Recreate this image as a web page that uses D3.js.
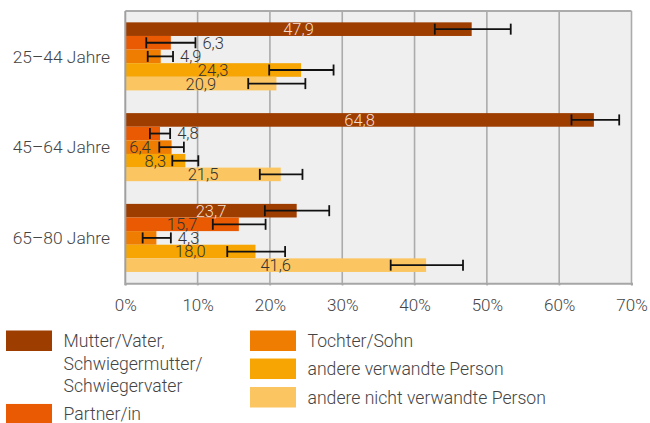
<!DOCTYPE html>
<html>
<head>
<meta charset="utf-8">
<script src="https://cdn.jsdelivr.net/npm/d3@7"></script>
<style>
  body { margin: 0; background: #fff; }
  svg { display: block; font-family: Roboto, "Open Sans", sans-serif; font-weight: 300; }
</style>
</head>
<body>
<div id="chart"></div>
<script>
// age groups (y categories)
const groups = ["25–44 Jahre", "45–64 Jahre", "65–80 Jahre"];

// series, in drawing order inside each group
const seriesNames = [
  "Mutter/Vater, Schwiegermutter/ Schwiegervater",
  "Partner/in",
  "Tochter/Sohn",
  "andere verwandte Person",
  "andere nicht verwandte Person",
];
const seriesColors = ["#9e3d00", "#e95a03", "#ef7d02", "#f6a502", "#fbc662"];

// values in %, one per group
const mutterVater = [47.9, 64.8, 23.7];
const partner = [6.3, 4.8, 15.7];
const tochterSohn = [4.9, 6.4, 4.3];
const verwandt = [24.3, 8.3, 18.0];
const nichtVerwandt = [20.9, 21.5, 41.6];

// confidence intervals (low / high), one per group
const mutterVaterLo = [42.8, 61.7, 19.3];
const mutterVaterHi = [53.3, 68.3, 28.2];
const partnerLo = [2.9, 3.4, 12.1];
const partnerHi = [9.7, 6.2, 19.4];
const tochterSohnLo = [3.1, 4.7, 2.4];
const tochterSohnHi = [6.6, 8.1, 6.3];
const verwandtLo = [19.9, 6.5, 14.1];
const verwandtHi = [28.8, 10.1, 22.1];
const nichtVerwandtLo = [17.0, 18.6, 36.7];
const nichtVerwandtHi = [24.9, 24.5, 46.7];

// where the value label sits: c = bar centre, o = after the error bar, b = bar base
const mutterVaterLab = ["c", "c", "c"];
const partnerLab = ["o", "o", "c"];
const tochterSohnLab = ["o", "b", "o"];
const verwandtLab = ["c", "c", "c"];
const nichtVerwandtLab = ["c", "c", "c"];

const xTicks = [0, 10, 20, 30, 40, 50, 60, 70];

const values = [mutterVater, partner, tochterSohn, verwandt, nichtVerwandt];
const lows = [mutterVaterLo, partnerLo, tochterSohnLo, verwandtLo, nichtVerwandtLo];
const highs = [mutterVaterHi, partnerHi, tochterSohnHi, verwandtHi, nichtVerwandtHi];
const labs = [mutterVaterLab, partnerLab, tochterSohnLab, verwandtLab, nichtVerwandtLab];

const rows = [];
groups.forEach((g, gi) => {
  seriesNames.forEach((s, si) => {
    rows.push({
      group: g,
      series: s,
      si,
      value: values[si][gi],
      lo: lows[si][gi],
      hi: highs[si][gi],
      lab: labs[si][gi],
    });
  });
});

const width = 650;
const height = 423;
const margin = { top: 11, right: 18.5, bottom: 139.7, left: 125.3 };
const plotW = width - margin.left - margin.right;
const plotH = height - margin.top - margin.bottom;

const fmt = (v) => v.toFixed(1).replace(".", ",");

const svg = d3
  .select("#chart")
  .append("svg")
  .attr("width", width)
  .attr("height", height);

const x = d3.scaleLinear().domain([0, 70]).range([margin.left, margin.left + plotW]);

const y0 = d3
  .scaleBand()
  .domain(groups)
  .range([margin.top, margin.top + plotH])
  .paddingInner(0.25)
  .paddingOuter(0.125);

const y1 = d3
  .scaleBand()
  .domain(d3.range(seriesNames.length))
  .range([0, y0.bandwidth()]);

const color = d3.scaleOrdinal().domain(d3.range(seriesNames.length)).range(seriesColors);

// plot background
svg
  .append("rect")
  .attr("x", margin.left)
  .attr("y", margin.top)
  .attr("width", plotW)
  .attr("height", plotH)
  .attr("fill", "#efefef");

// vertical grid
svg
  .append("g")
  .selectAll("line")
  .data(xTicks.slice(1))
  .join("line")
  .attr("x1", (d) => x(d))
  .attr("x2", (d) => x(d))
  .attr("y1", margin.top)
  .attr("y2", margin.top + plotH + 2)
  .attr("stroke", "#ababab")
  .attr("stroke-width", 1.6);

// frame: top border
svg
  .append("line")
  .attr("x1", margin.left)
  .attr("x2", margin.left + plotW)
  .attr("y1", margin.top)
  .attr("y2", margin.top)
  .attr("stroke", "#ababab")
  .attr("stroke-width", 2);

// bars
const bars = svg.append("g");
bars
  .selectAll("rect")
  .data(rows)
  .join("rect")
  .attr("x", x(0))
  .attr("y", (d) => y0(d.group) + y1(d.si))
  .attr("width", (d) => x(d.value) - x(0))
  .attr("height", y1.bandwidth())
  .attr("fill", (d) => color(d.si));

// error bars
const errs = svg.append("g").attr("stroke", "#111").attr("stroke-width", 1.8);
rows.forEach((d) => {
  const cy = y0(d.group) + y1(d.si) + y1.bandwidth() / 2;
  errs.append("line").attr("x1", x(d.lo)).attr("x2", x(d.hi)).attr("y1", cy).attr("y2", cy);
  errs.append("line").attr("x1", x(d.lo)).attr("x2", x(d.lo)).attr("y1", cy - 5.5).attr("y2", cy + 5.5);
  errs.append("line").attr("x1", x(d.hi)).attr("x2", x(d.hi)).attr("y1", cy - 5.5).attr("y2", cy + 5.5);
});

// value labels
svg
  .append("g")
  .selectAll("text")
  .data(rows)
  .join("text")
  .attr("x", (d) =>
    d.lab === "o" ? x(d.hi) + 7 : d.lab === "b" ? x(0) + 4 : (x(0) + x(d.value)) / 2
  )
  .attr("y", (d) => y0(d.group) + y1(d.si) + y1.bandwidth() / 2)
  .attr("dy", "0.36em")
  .attr("text-anchor", (d) => (d.lab === "c" ? "middle" : "start"))
  .attr("fill", (d) => (d.si === 0 ? "#f3dccd" : "#333"))
  .style("font-size", "16.5px")
  .text((d) => fmt(d.value));

// left axis line
svg
  .append("line")
  .attr("x1", margin.left)
  .attr("x2", margin.left)
  .attr("y1", margin.top)
  .attr("y2", margin.top + plotH + 2)
  .attr("stroke", "#a0a0a0")
  .attr("stroke-width", 2);

// bottom axis
const xAxis = svg
  .append("g")
  .attr("transform", `translate(0, ${margin.top + plotH})`)
  .call(
    d3
      .axisBottom(x)
      .tickValues(xTicks)
      .tickSize(2)
      .tickPadding(14)
      .tickFormat((d) => d + "%")
  );
xAxis.select(".domain").attr("stroke", "#a6a6a6").attr("stroke-width", 2);
xAxis.selectAll(".tick line").attr("stroke", "#a6a6a6").attr("stroke-width", 1.6);
xAxis
  .selectAll(".tick text")
  .attr("fill", "#444")
  .style("font-family", "Roboto, sans-serif")
  .style("font-weight", 300)
  .style("font-size", "17px");

// group labels
svg
  .append("g")
  .selectAll("text")
  .data(groups)
  .join("text")
  .attr("x", 110)
  .attr("y", (d) => y0(d) + y0.bandwidth() / 2)
  .attr("dy", "0.36em")
  .attr("text-anchor", "end")
  .attr("fill", "#444")
  .style("font-size", "17.4px")
  .text((d) => d);

// legend
const legendItems = [
  { si: 0, col: 0, row: 0, lines: ["Mutter/Vater,", "Schwiegermutter/", "Schwiegervater"] },
  { si: 1, col: 0, row: 3.25, lines: ["Partner/in"] },
  { si: 2, col: 1, row: 0, lines: ["Tochter/Sohn"] },
  { si: 3, col: 1, row: 1.24, lines: ["andere verwandte Person"] },
  { si: 4, col: 1, row: 2.5, lines: ["andere nicht verwandte Person"] },
];
const legX = [6, 250];
const legTop = 330.5;
const legStep = 22.6;

const legend = svg.append("g");
legendItems.forEach((it) => {
  const gx = legX[it.col];
  const gy = legTop + it.row * legStep;
  legend
    .append("rect")
    .attr("x", gx)
    .attr("y", gy)
    .attr("width", 46)
    .attr("height", 20.5)
    .attr("fill", color(it.si));
  const t = legend
    .append("text")
    .attr("x", gx + 57.5)
    .attr("y", gy + 16.5)
    .attr("fill", "#444")
    .style("font-size", "17.6px");
  it.lines.forEach((ln, i) => {
    t.append("tspan").attr("x", gx + 57.5).attr("dy", i === 0 ? 0 : 22.7).text(ln);
  });
});
</script>
</body>
</html>
